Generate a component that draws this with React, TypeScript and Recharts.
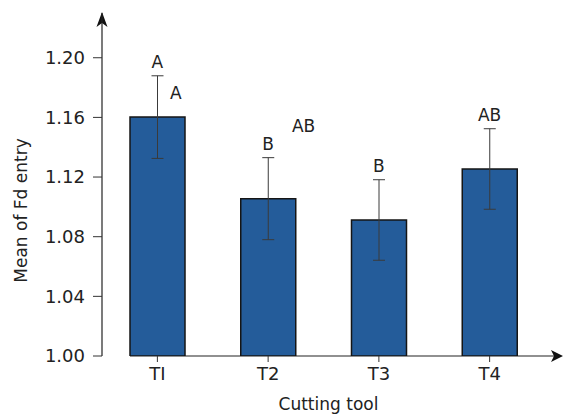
import React from "react";
import { BarChart, Bar, XAxis, YAxis, ErrorBar, ReferenceDot, Customized } from "recharts";

const categories = ["TI", "T2", "T3", "T4"];
const means = [1.1602, 1.1055, 1.0912, 1.1254];
const errors = [0.0277, 0.0275, 0.027, 0.027];
const letters = ["A", "B", "B", "AB"];
const extraLetters = [
  { cat: "TI", value: 1.1725, text: "A", dx: 18.5 },
  { cat: "T2", value: 1.1503, text: "AB", dx: 35.5 },
];
const yTicks = [1.0, 1.04, 1.08, 1.12, 1.16, 1.2];

const data = categories.map((c, i) => ({ cat: c, mean: means[i], err: errors[i] }));

const FONT = "'DejaVu Sans', sans-serif";
const W = 563;
const H = 414;
const TOP = 13;
const RIGHT = 18;
const YW = 102;
const XH = 58;

const Arrows = () => {
  const axisY = H - XH;
  return (
    <g>
      <line x1={130} y1={axisY} x2={556} y2={axisY} stroke="#222" strokeWidth={1.2} />
      <path d={`M563,${axisY} L551,${axisY - 6} L554,${axisY} L551,${axisY + 6} Z`} fill="#111" />
      <path d={`M${YW},12 L${YW - 5.5},27 L${YW},23 L${YW + 5.5},27 Z`} fill="#111" />
    </g>
  );
};

export default function App() {
  return (
    <div style={{ position: "absolute", left: 0, top: 0 }}>
      <BarChart width={W} height={H} data={data} margin={{ top: TOP, right: RIGHT, left: 0, bottom: 0 }}>
        <XAxis
          dataKey="cat"
          height={XH}
          axisLine={false}
          tickLine={{ stroke: "#333" }}
          tickSize={6}
          tickMargin={5}
          tick={{ fill: "#222", fontSize: 18, fontFamily: FONT }}
          label={{
            content: (p: any) => {
              const vb = p.viewBox || {};
              const cx = (vb.x ?? YW) + (vb.width ?? 443) / 2 + 5;
              return (
                <text x={cx} y={H - 4} textAnchor="middle" fill="#222" fontSize={17} fontFamily={FONT}>
                  Cutting tool
                </text>
              );
            },
          }}
        />
        <YAxis
          width={YW}
          domain={[1.0, 1.23]}
          ticks={yTicks}
          type="number"
          allowDataOverflow
          axisLine={{ stroke: "#222", strokeWidth: 1.2 }}
          tickLine={{ stroke: "#333" }}
          tickSize={9}
          tickMargin={8}
          tickFormatter={(v: number) => v.toFixed(2)}
          tick={{ fill: "#222", fontSize: 18, fontFamily: FONT }}
          label={{
            content: (p: any) => {
              const vb = p.viewBox || {};
              const cx = 27;
              const cy = (vb.y ?? TOP) + (vb.height ?? 343) / 2 + 26;
              return (
                <text
                  x={cx}
                  y={cy}
                  transform={`rotate(-90, ${cx}, ${cy})`}
                  textAnchor="middle"
                  fill="#222"
                  fontSize={17}
                  fontFamily={FONT}
                >
                  Mean of Fd entry
                </text>
              );
            },
          }}
        />
        <Bar dataKey="mean" fill="#245c9a" stroke="#151515" strokeWidth={1.5} barSize={55} isAnimationActive={false}>
          <ErrorBar dataKey="err" width={6} stroke="#3a3a3a" strokeWidth={1} isAnimationActive={false} />
        </Bar>
        {data.map((d, i) => (
          <ReferenceDot
            key={"l" + i}
            x={d.cat}
            y={d.mean + d.err}
            r={0}
            ifOverflow="visible"
            shape={(p: any) => (
              <text x={p.cx} y={p.cy - 8} textAnchor="middle" fill="#222" fontSize={17} fontFamily={FONT}>
                {letters[i]}
              </text>
            )}
          />
        ))}
        {extraLetters.map((e, i) => (
          <ReferenceDot
            key={"e" + i}
            x={e.cat}
            y={e.value}
            r={0}
            ifOverflow="visible"
            shape={(p: any) => (
              <text x={p.cx + e.dx} y={p.cy} textAnchor="middle" fill="#222" fontSize={17} fontFamily={FONT}>
                {e.text}
              </text>
            )}
          />
        ))}
        <Customized component={Arrows} />
      </BarChart>
    </div>
  );
}
